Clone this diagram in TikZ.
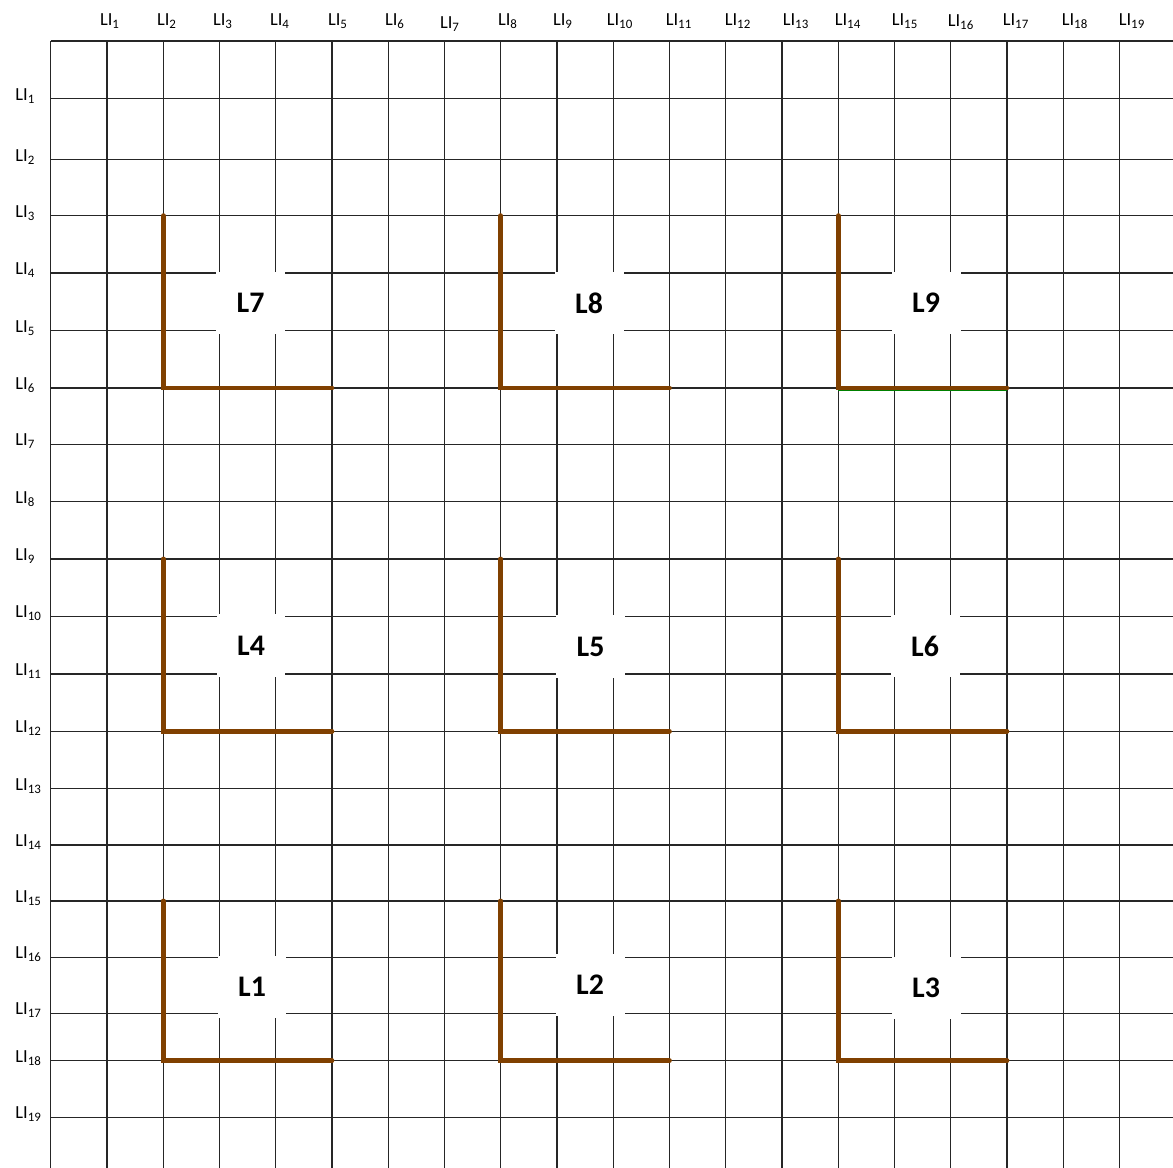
\documentclass[tikz,border=0pt]{standalone}
\usepackage{fontspec}
\setmainfont{Carlito}
\definecolor{lbrown}{RGB}{128,64,0}
\definecolor{lgreen}{RGB}{0,128,0}
\tikzset{
  gridline/.style={line width=0.75pt, black!85},
  lshape/.style={line width=2.8pt, lbrown, line cap=round},
  lbox/.style={fill=white, inner sep=0pt, minimum width=1.38cm, minimum height=1.26cm,
    font=\fontsize{17}{19}\selectfont\bfseries},
  lilabel/.style={inner sep=0pt, font=\fontsize{10.5}{12}\selectfont},
}
\begin{document}
\begin{tikzpicture}[x=0.02cm, y=-0.02cm]
  \useasboundingbox (0,0) rectangle (1173,1168);

  % grid
  \draw[gridline] (50.7,41) -- (1173,41);
  \foreach \yy in {98.7,159.7,215.7,273,330.7,388,444.3,501.7,559,616.3,674,731.3,788.7,845,901,957.3,1013.3,1060.7,1117.3}
    \draw[gridline] (50.7,\yy) -- (1173,\yy);
  \foreach \k in {0,...,19}
    \draw[gridline] ({50.7+56.25*\k},41) -- ({50.7+56.25*\k},1168);

  % row and column labels
  \foreach \yy [count=\i] in {98.7,159.7,215.7,273,330.7,388,444.3,501.7,559,616.3,674,731.3,788.7,845,901,957.3,1013.3,1060.7,1117.3}
    \node[lilabel, anchor=base west] (r\i) at ({15},{\yy+1.5}) {LI\textsubscript{\i}};
  \foreach \xx/\yy [count=\i] in {110/21,167/21,223/21,280/21,338/21,395/21,450/24,508/21,563/21,620/21,679/21,738/21,796/21,848/21,905/21,961/22,1016/21,1075/21,1132/21}
    \node[lilabel] (c\i) at (\xx,\yy) {LI\textsubscript{\i}};

  % label boxes
  \node[lbox] (l7) at (250.5,303) {L7};
  \node[lbox] (l8) at (589,303) {L8};
  \node[lbox] (l9) at (926,303) {L9};
  \node[lbox] (l4) at (251,645.5) {L4};
  \node[lbox] (l5) at (590.5,646.5) {L5};
  \node[lbox] (l6) at (925,646) {L6};
  \node[lbox] (l1) at (252,987) {L1};
  \node[lbox] (l2) at (590,985) {L2};
  \node[lbox] (l3) at (926,988) {L3};

  % the L shapes
  \draw[line width=1pt, lgreen] (838.2,390) -- (1006.9,390);
  \draw[lshape] (163.2,215.7) -- (163.2,388) -- (331.9,388);
  \draw[lshape] (500.7,215.7) -- (500.7,388) -- (669.4,388);
  \draw[lshape] (838.2,215.7) -- (838.2,388) -- (1006.9,388);
  \draw[lshape] (163.2,559) -- (163.2,731.3) -- (331.9,731.3);
  \draw[lshape] (500.7,559) -- (500.7,731.3) -- (669.4,731.3);
  \draw[lshape] (838.2,559) -- (838.2,731.3) -- (1006.9,731.3);
  \draw[lshape] (163.2,901) -- (163.2,1060.7) -- (331.9,1060.7);
  \draw[lshape] (500.7,901) -- (500.7,1060.7) -- (669.4,1060.7);
  \draw[lshape] (838.2,901) -- (838.2,1060.7) -- (1006.9,1060.7);
\end{tikzpicture}
\end{document}
